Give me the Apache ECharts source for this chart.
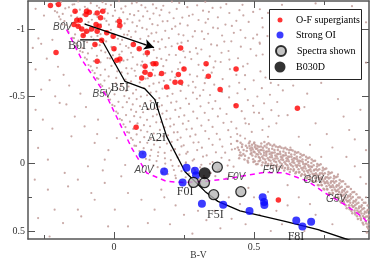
<!DOCTYPE html>
<html><head><meta charset="utf-8">
<script src="https://cdn.jsdelivr.net/npm/echarts@6/dist/echarts.min.js"></script>
<style>html,body{margin:0;padding:0;background:#fff}#c{width:370px;height:260px}</style>
</head><body><div id="c"></div>
<script>
const xTicksMajor=[0,0.5], xTicksMinor=[-0.25,0.25,0.75];
const yTicksMajor=[-1,-0.5,0,0.5], yTicksMinor=[-0.75,-0.25,0.25];

const superGiants=[[-.227,-1.175],[-.198,-1.182],[-.139,-1.132],[-.098,-1.132],[-.088,-1.125],[-.060,-1.120],[-.040,-1.132],[-.100,-1.108],[-.048,-1.083],[-.133,-1.065],[-.121,-1.065],[-.143,-1.033],[-.128,-1.021],[-.115,-1.001],[-.098,-.984],[-.080,-1.001],[-.064,-1.033],[-.053,-1.021],[-.060,-.984],[-.110,-.952],[-.026,-.972],[.019,-1.058],[.021,-1.026],[-.003,-.946],[-.068,-.885],[-.044,-.917],[.000,-.853],[.069,-.885],[.090,-.853],[.119,-.823],[-.060,-.761],[.010,-.768],[.021,-.778],[.238,-.860],[.140,-.743],[.150,-.743],[.111,-.723],[.111,-.679],[.129,-.662],[.170,-.669],[.099,-.637],[.250,-.704],[.230,-.662],[.329,-.743],[.337,-.649],[.436,-.704],[.218,-.604],[.238,-.604],[.188,-.570],[.379,-.550],[.436,-.431],[.079,-.271],[-.207,-.825],[.655,-.411],[.587,.270]];
const strongOI=[[.102,-.069],[.179,.059],[.245,.139],[.259,.030],[.289,.052],[.293,.086],[.314,.297],[.390,.305],[.484,.352],[.531,.249],[.536,.285],[.537,.307],[.651,.422],[.673,.466],[.704,.431]];
const spectraShown=[[.369,.026],[.284,.139],[.323,.141],[.356,.230],[.453,.208]];
const b030d=[[.324,.072]];

const supergiantSeq=[[-.121,-.92],[-.044,-.92],[.039,-.612],[.111,-.555],[.146,-.476],[.188,-.203],[.254,.06],[.283,.119],[.325,.206],[.371,.28],[.45,.35],[.611,.429],[.729,.49],[.836,.565],[.9,.61]];
const zams=[[-.169,-.996],[-.115,-.773],[-.026,-.5],[.063,-.117],[.081,-.054],[.117,.069],[.188,.132],[.248,.139],[.325,.132],[.407,.112],[.486,.082],[.539,.065],[.611,.069],[.694,.132],[.754,.218],[.825,.305],[.885,.392],[.907,.439]];
const arrowFrom=[-.104,-1.036], arrowTo=[.143,-.862];

const superLabels=[['B0I',-.132,-.877],['B5I',.021,-.565],['A0I',.129,-.42],['A2I',.152,-.19],['F0I',.254,.208],['F5I',.362,.38],['F8I',.65,.545]];
const dwarfLabels=[['B0V',-.184,-1.015],['B5V',-.043,-.517],['A0V',.107,.048],['F0V',.436,.097],['F5V',.564,.048],['G0V',.7125,.126],['G5V',.793,.264]];

const cloudUpper=[
[-.207,-1.187],[-.189,-1.201],[-.142,-1.184],[-.128,-1.205],[-.083,-1.192],[-.041,-1.199],[-.029,-1.186],[.018,-1.207],[.064,-1.19],[.081,-1.197],[.139,-1.183],[.207,-1.203],[.233,-1.194],[.326,-1.202],[.401,-1.185],
[-.199,-1.174],[-.161,-1.161],[-.148,-1.182],[-.104,-1.165],[-.061,-1.172],[-.053,-1.158],[-.011,-1.178],[.041,-1.169],[.098,-1.177],[.112,-1.16],[.176,-1.173],[.262,-1.162],[.297,-1.176],[.381,-1.159],[.459,-1.18],
[-.211,-1.133],[-.174,-1.153],[-.122,-1.144],[-.094,-1.152],[-.087,-1.135],[-.031,-1.148],[.004,-1.137],[.026,-1.151],[.087,-1.134],[.151,-1.155],[.169,-1.142],[.224,-1.149],[.318,-1.136],[.352,-1.157],[.448,-1.14],[.521,-1.147],
[-.203,-1.123],[-.183,-1.112],[-.137,-1.126],[-.071,-1.109],[-.048,-1.13],[-.022,-1.117],[.033,-1.124],[.057,-1.111],[.119,-1.132],[.141,-1.115],[.198,-1.122],[.281,-1.108],[.339,-1.128],[.412,-1.119],[.497,-1.127],
[-.196,-1.092],[-.153,-1.099],[-.131,-1.086],[-.111,-1.107],[-.059,-1.09],[-.004,-1.097],[.019,-1.083],[.072,-1.103],[.104,-1.094],[.163,-1.102],[.244,-1.085],[.268,-1.098],[.371,-1.087],[.462,-1.101],[.562,-1.084],
[-.191,-1.072],[-.177,-1.058],[-.118,-1.078],[-.079,-1.069],[-.034,-1.077],[-.027,-1.06],[.048,-1.073],[.091,-1.062],[.128,-1.076],[.191,-1.059],[.213,-1.08],[.302,-1.067],[.336,-1.074],[.437,-1.061],[.529,-1.082],
[-.184,-1.035],[-.143,-1.048],[-.104,-1.037],[-.091,-1.051],[-.047,-1.034],[.007,-1.055],[.038,-1.042],[.066,-1.049],[.137,-1.036],[.174,-1.057],[.236,-1.04],[.327,-1.047],[.398,-1.033],[.481,-1.053],[.584,-1.044],
[-.171,-1.03],[-.158,-1.017],[-.127,-1.024],[-.066,-1.011],[-.018,-1.032],[.013,-1.015],[.082,-1.022],[.101,-1.008],[.156,-1.028],[.219,-1.019],[.263,-1.027],[.354,-1.01],[.421,-1.023],[.531,-1.012],
[-.166,-.99],[-.121,-.997],[-.087,-.983],[-.071,-1.003],[-.011,-.994],[.024,-1.002],[.053,-.985],[.117,-.998],[.183,-.987],[.207,-1.001],[.289,-.984],[.371,-1.005],[.452,-.992],[.573,-.999],
[-.162,-.977],[-.139,-.96],[-.101,-.973],[-.048,-.962],[-.029,-.976],[.036,-.959],[.077,-.98],[.134,-.967],[.151,-.974],[.231,-.961],[.314,-.982],[.336,-.965],[.428,-.972],[.511,-.958],[.618,-.978],
[-.149,-.934],[-.108,-.955],[-.081,-.942],[-.059,-.949],[-.002,-.936],[.048,-.957],[.061,-.94],[.123,-.947],[.196,-.933],[.248,-.953],[.281,-.944],[.386,-.952],[.469,-.935],[.548,-.948],
[-.143,-.932],[-.127,-.915],[-.073,-.922],[-.028,-.908],[.014,-.928],[.029,-.919],[.094,-.927],[.143,-.91],[.171,-.923],[.264,-.912],[.322,-.926],[.419,-.909],[.497,-.93],[.601,-.917],
[-.136,-.894],[-.096,-.902],[-.064,-.885],[-.041,-.898],[.022,-.887],[.071,-.901],[.109,-.884],[.158,-.905],[.227,-.892],[.241,-.899],[.347,-.886],[.394,-.907],[.521,-.89],
[-.128,-.876],[-.113,-.859],[-.051,-.88],[-.009,-.867],[.043,-.874],[.052,-.861],[.127,-.882],[.184,-.865],[.206,-.872],[.293,-.858],[.368,-.878],[.453,-.869],[.562,-.877],[.641,-.86],
[-.121,-.836],[-.079,-.857],[-.046,-.84],[.003,-.847],[.028,-.833],[.088,-.853],[.142,-.844],[.163,-.852],[.248,-.835],[.312,-.848],[.409,-.837],[.488,-.851],
[-.112,-.828],[-.093,-.819],[-.031,-.827],[.019,-.81],[.061,-.823],[.106,-.812],[.121,-.826],[.197,-.809],[.271,-.83],[.298,-.817],[.384,-.824],[.531,-.811],[.613,-.832],
[-.104,-.787],[-.061,-.801],[-.023,-.784],[-.004,-.805],[.067,-.792],[.118,-.799],[.153,-.786],[.221,-.807],[.254,-.79],[.342,-.797],[.443,-.783],[.508,-.803],
[-.097,-.774],[-.072,-.761],[-.014,-.782],[.034,-.765],[.048,-.772],[.101,-.758],[.169,-.778],[.187,-.769],[.276,-.777],[.362,-.76],[.412,-.773],[.569,-.762],[.657,-.776],
[-.091,-.733],[-.048,-.753],[.003,-.744],[.021,-.752],[.083,-.735],[.131,-.748],[.149,-.737],[.236,-.751],[.302,-.734],[.381,-.755],[.477,-.742],
[-.083,-.723],[-.061,-.712],[-.009,-.726],[.044,-.709],[.097,-.73],[.112,-.717],[.176,-.724],[.248,-.711],[.331,-.732],[.356,-.715],[.461,-.722],[.612,-.708],
[-.077,-.692],[-.032,-.699],[.012,-.686],[.063,-.707],[.074,-.69],[.139,-.697],[.207,-.683],[.229,-.703],[.318,-.694],[.414,-.702],[.523,-.685],
[-.069,-.672],[-.048,-.658],[.027,-.678],[.049,-.669],[.103,-.677],[.162,-.66],[.183,-.673],[.271,-.662],[.349,-.676],[.437,-.659],[.578,-.68],
[-.061,-.635],[-.019,-.648],[.008,-.637],[.078,-.651],[.121,-.634],[.146,-.655],[.219,-.642],[.297,-.649],[.327,-.636],[.468,-.657],[.541,-.64],
[-.056,-.63],[-.034,-.617],[.041,-.624],[.061,-.611],[.113,-.632],[.178,-.615],[.201,-.622],[.282,-.608],[.388,-.628],[.499,-.619],[.632,-.627],
[-.048,-.59],[.006,-.597],[.027,-.583],[.092,-.603],[.141,-.594],[.161,-.602],[.243,-.585],[.324,-.598],[.358,-.587],[.447,-.601],[.587,-.584],
[-.042,-.577],[-.017,-.56],[.052,-.573],[.107,-.562],[.126,-.576],[.197,-.559],[.266,-.58],[.291,-.567],[.412,-.574],[.528,-.561],
[-.034,-.534],[.021,-.555],[.043,-.542],[.079,-.549],[.151,-.536],[.173,-.557],[.238,-.54],[.319,-.547],[.386,-.533],[.468,-.553],[.603,-.544],
[-.029,-.532],[.002,-.515],[.068,-.522],[.118,-.508],[.131,-.528],[.209,-.519],[.282,-.527],[.343,-.51],[.441,-.523],[.557,-.512],
[-.021,-.494],[.037,-.502],[.054,-.485],[.096,-.498],[.162,-.487],[.191,-.501],[.257,-.484],[.307,-.505],[.411,-.492],[.512,-.499],
[-.014,-.476],[.016,-.459],[.081,-.48],[.131,-.467],[.148,-.474],[.223,-.461],[.296,-.482],[.362,-.465],[.478,-.472],[.583,-.458],
[-.006,-.436],[.046,-.457],[.067,-.44],[.109,-.447],[.171,-.433],[.204,-.453],[.268,-.444],[.338,-.452],[.431,-.435],[.536,-.448],
[.002,-.428],[.031,-.419],[.093,-.427],[.146,-.41],[.161,-.423],[.237,-.412],[.309,-.426],[.379,-.409],[.497,-.43],
[.008,-.387],[.061,-.401],[.079,-.384],[.124,-.405],[.188,-.392],[.219,-.399],[.283,-.386],[.352,-.407],[.456,-.39],[.562,-.397],
[.014,-.374],[.043,-.361],[.104,-.382],[.153,-.365],[.173,-.372],[.251,-.358],[.324,-.378],[.402,-.369],[.518,-.377],
[.021,-.333],[.072,-.353],[.094,-.344],[.139,-.352],[.201,-.335],[.232,-.348],[.297,-.337],[.371,-.351],[.467,-.334],[.588,-.355],
[.028,-.323],[.057,-.312],[.118,-.326],[.168,-.309],[.187,-.33],[.266,-.317],[.338,-.324],[.419,-.311],[.531,-.332],
[.034,-.292],[.084,-.299],[.107,-.286],[.151,-.307],[.214,-.29],[.246,-.297],[.312,-.283],[.391,-.303],[.482,-.294],
[.041,-.272],[.069,-.258],[.129,-.278],[.181,-.269],[.201,-.277],[.278,-.26],[.352,-.273],[.437,-.262],[.553,-.276],
[.047,-.235],[.096,-.248],[.119,-.237],[.164,-.251],[.227,-.234],[.259,-.255],[.326,-.242],[.408,-.249],[.492,-.236],
[.054,-.23],[.081,-.217],[.142,-.224],[.193,-.211],[.214,-.232],[.291,-.215],[.367,-.222],[.451,-.208],
[.061,-.19],[.108,-.197],[.131,-.183],[.176,-.203],[.238,-.194],[.272,-.202],[.339,-.185],[.417,-.198],[.468,-.187],
[.067,-.177],[.093,-.16],[.153,-.173],[.206,-.162],[.227,-.176],[.302,-.159],[.378,-.18],[.441,-.167],
[.073,-.134],[.119,-.155],[.143,-.142],[.189,-.149],[.249,-.136],[.284,-.157],[.352,-.14],[.418,-.147],
[.079,-.132],[.106,-.115],[.164,-.122],[.218,-.108],[.241,-.128],[.314,-.119],[.387,-.127],[.432,-.11],
[.091,-.094],[.133,-.102],[.158,-.085],[.204,-.098],[.263,-.087],[.297,-.101],[.364,-.084],[.421,-.105],
[.103,-.076],[.129,-.059],[.181,-.08],[.234,-.067],[.258,-.074],[.331,-.061],[.397,-.082],
[.114,-.036],[.157,-.057],[.182,-.04],[.227,-.047],[.286,-.033],[.318,-.053],[.384,-.044],
[.127,-.028],[.152,-.019],[.203,-.027],[.257,-.01],[.281,-.023],[.352,-.012],[.412,-.026],
[.141,.013],[.183,-.001],[.209,.016],[.256,-.005],[.312,.008],[.343,.001],[.406,.014],
[.156,.026],[.181,.039],[.231,.018],[.284,.035],[.308,.028],[.376,.042],[.427,.022],
[.173,.067],[.214,.047],[.241,.056],[.289,.048],[.342,.065],[.371,.052],
[.192,.077],[.219,.088],[.268,.074],[.321,.091],[.346,.07],[.412,.083],
[.221,.108],[.256,.101],[.304,.114],[.362,.093],[.401,.11]];

const cloudMS=[
[.442,-.121],[.451,-.083],[.458,-.142],[.447,-.041],[.439,-.168],[.463,-.102],[.455,-.061],
[.471,-.133],[.468,-.058],[.482,-.152],[.477,-.021],[.474,-.094],[.486,-.112],[.479,-.008],[.488,-.071],
[.493,-.141],[.491,-.079],[.503,-.123],[.497,-.032],[.506,-.054],[.501,-.158],[.495,-.108],[.508,.004],[.499,-.091],
[.512,-.132],[.514,-.069],[.523,-.101],[.517,-.018],[.526,-.149],[.521,-.042],[.511,-.113],[.528,.011],[.519,-.084],
[.532,-.118],[.535,-.062],[.543,-.089],[.531,-.009],[.546,-.142],[.539,-.031],[.534,-.098],[.548,.018],[.537,-.161],[.544,-.071],
[.553,-.109],[.557,-.048],[.562,-.081],[.551,.003],[.566,-.131],[.559,-.022],[.554,-.092],[.568,.031],[.552,-.152],[.563,-.062],
[.573,-.101],[.576,-.039],[.583,-.072],[.571,.011],[.586,-.122],[.579,-.012],[.574,-.083],[.588,.042],[.572,-.141],[.581,-.053],
[.593,-.088],[.597,-.031],[.603,-.061],[.591,.022],[.606,-.112],[.599,.003],[.594,-.072],[.608,.051],[.592,-.128],[.601,-.044],
[.613,-.079],[.616,-.019],[.622,-.052],[.611,.032],[.626,-.101],[.619,.012],[.614,-.062],[.628,.061],[.612,-.119],[.621,-.033],
[.633,-.068],[.637,-.011],[.643,-.041],[.631,.042],[.646,-.089],[.639,.021],[.634,-.052],[.648,.071],[.632,-.103],[.641,-.022],
[.653,-.052],[.656,.012],[.662,-.022],[.651,.061],[.666,-.071],[.659,.041],[.654,-.033],[.668,.089],[.652,-.082],[.661,-.004],
[.673,-.031],[.676,.031],[.683,.002],[.671,.079],[.686,-.052],[.679,.058],[.674,-.012],[.688,.108],[.672,-.061],[.681,.019],
[.693,-.012],[.696,.049],[.703,.021],[.691,.101],[.706,-.031],[.699,.082],[.694,.012],[.708,.128],[.692,-.041],[.701,.041],
[.713,.011],[.716,.078],[.722,.042],[.711,.131],[.726,.003],[.719,.109],[.714,.051],[.728,.158],[.712,-.019],[.721,.071],
[.733,.041],[.736,.108],[.743,.072],[.731,.161],[.746,.031],[.739,.138],[.734,.082],[.748,.187],[.732,.011],[.741,.101],
[.753,.071],[.756,.139],[.762,.101],[.751,.192],[.766,.062],[.759,.168],[.754,.112],[.768,.218],[.752,.041],[.761,.131],
[.773,.102],[.776,.171],[.783,.131],[.771,.222],[.786,.091],[.779,.198],[.774,.142],[.788,.248],[.772,.071],[.781,.161],
[.793,.131],[.796,.201],[.802,.162],[.791,.251],[.806,.121],[.799,.228],[.794,.172],[.808,.279],[.792,.101],[.801,.191],
[.813,.171],[.816,.238],[.822,.201],[.811,.289],[.826,.151],[.819,.268],[.814,.212],[.828,.311],[.812,.132],[.821,.231],
[.833,.208],[.836,.279],[.843,.242],[.831,.331],[.846,.188],[.839,.309],[.834,.251],[.848,.352],[.832,.171],[.841,.271],
[.853,.248],[.856,.318],[.862,.281],[.851,.369],[.866,.228],[.859,.348],[.854,.291],[.868,.391],[.852,.212],[.861,.309],
[.873,.291],[.876,.361],[.883,.322],[.871,.411],[.886,.268],[.879,.389],[.874,.331],[.888,.438],[.872,.251],[.881,.352],
[.893,.331],[.896,.401],[.902,.362],[.891,.452],[.906,.311],[.899,.428],[.894,.372],[.908,.481],[.892,.291],[.901,.392],
[.911,.381],[.909,.451],[.912,.502],[.908,.342]];

const cloudMS2=[
[.446,-.101],[.457,-.123],[.462,-.072],[.452,-.155],[.466,-.031],[.449,-.062],
[.484,-.132],[.481,-.043],[.489,-.098],[.476,-.118],[.494,-.061],[.498,-.012],[.485,-.165],[.492,-.121],
[.505,-.139],[.509,-.072],[.515,-.098],[.503,-.018],[.517,-.049],[.507,-.111],[.518,-.125],[.513,.003],[.502,-.085],
[.525,-.128],[.529,-.052],[.536,-.081],[.522,-.025],[.538,-.131],[.527,-.101],[.533,-.039],[.541,-.002],[.524,-.071],
[.545,-.121],[.549,-.041],[.556,-.071],[.542,-.012],[.558,-.141],[.547,-.091],[.553,-.028],[.561,.012],[.544,-.058],
[.565,-.111],[.569,-.031],[.576,-.061],[.562,-.002],[.578,-.128],[.567,-.081],[.573,-.018],[.581,.022],[.564,-.048],
[.585,-.101],[.589,-.021],[.596,-.051],[.582,.008],[.598,-.118],[.587,-.071],[.593,-.008],[.601,.032],[.584,-.038],
[.605,-.091],[.609,-.011],[.616,-.041],[.602,.018],[.618,-.108],[.607,-.061],[.613,.002],[.621,.042],[.604,-.028],
[.625,-.081],[.629,.001],[.636,-.031],[.622,.028],[.638,-.098],[.627,-.051],[.633,.012],[.641,.052],[.624,-.018],
[.645,-.068],[.649,.012],[.656,-.018],[.642,.041],[.658,-.085],[.647,-.038],[.653,.025],[.661,.065],[.644,-.005],
[.665,-.048],[.669,.032],[.676,.002],[.662,.061],[.678,-.065],[.667,-.018],[.673,.045],[.681,.085],[.664,.015],
[.685,-.028],[.689,.052],[.696,.022],[.682,.081],[.698,-.045],[.687,.002],[.693,.065],[.701,.105],[.684,.035],
[.705,-.005],[.709,.075],[.716,.045],[.702,.105],[.718,-.021],[.707,.025],[.713,.089],[.721,.131],[.704,.058],
[.725,.021],[.729,.101],[.736,.071],[.722,.131],[.738,.005],[.727,.051],[.733,.115],[.741,.158],[.724,.085],
[.745,.051],[.749,.131],[.756,.101],[.742,.161],[.758,.035],[.747,.081],[.753,.145],[.761,.188],[.744,.115],
[.765,.081],[.769,.161],[.776,.131],[.762,.191],[.778,.065],[.767,.111],[.773,.175],[.781,.218],[.764,.145],
[.785,.111],[.789,.191],[.796,.161],[.782,.221],[.798,.095],[.787,.141],[.793,.205],[.801,.248],[.784,.175],
[.805,.148],[.809,.228],[.816,.198],[.802,.258],[.818,.131],[.807,.178],[.813,.241],[.821,.285],[.804,.211],
[.825,.188],[.829,.268],[.836,.238],[.822,.298],[.838,.171],[.827,.218],[.833,.281],[.841,.325],[.824,.251],
[.845,.228],[.849,.308],[.856,.278],[.842,.338],[.858,.211],[.847,.258],[.853,.321],[.861,.365],[.844,.291],
[.865,.268],[.869,.348],[.876,.318],[.862,.378],[.878,.251],[.867,.298],[.873,.361],[.881,.405],[.864,.331],
[.885,.308],[.889,.388],[.896,.358],[.882,.418],[.898,.291],[.887,.338],[.893,.401],[.901,.445],[.884,.371],
[.905,.348],[.909,.418],[.904,.468],[.907,.392],[.903,.511]];

const cloudSparse=[
[-.254,-.327],[-.194,-.451],[-.271,-.117],[-.236,-.030],[-.176,.069],[-.129,.119],[-.236,.193],[-.164,.169],[-.081,.218],[-.271,.404],[-.212,.342],[-.129,.342],[-.069,.268],[-.182,.441],[-.117,.392],[-.230,.541],[-.033,.143],[.003,.342],[-.021,.466],[-.105,-.277],[-.057,-.327],[-.069,-.154],[-.152,-.203],[-.283,.119],[-.093,.020],[-.033,-.030],[.026,.094],[.050,.218],[.098,.268],[.145,.342],[.050,.466],[.121,.441],[.169,.193],
[-.28,-1.15],[-.25,-1.1],[-.27,-.93],[-.26,-.89],[-.29,-.86],[-.22,-.92],[-.24,-.78],[-.28,-.70],[-.2,-.72],[-.23,-.62],[-.18,-.66],[-.26,-.55],[-.16,-.58],[-.21,-.5],[-.12,-.52],[-.17,-.44],[-.28,-.40],[-.10,-.42],[-.14,-.35],[-.22,-.26],[-.06,-.22],[-.02,-.10],[.01,-.19],[.04,.01],[-.04,.05],
[.18,.25],[.22,.31],[.2,.45],[.25,.38],[.28,.52],[.33,.42],[.38,.48],[.42,.41],[.47,.45],[.41,.25],[.45,.3],[.5,.25],[.55,.21],[.58,.35],[.62,.31],[.6,.45],[.66,.25],[.7,.3],[.72,.38],[.74,.5],[.78,.45],[.68,.5],[.56,.5],[.52,.38],[.48,.18],[.62,.16],[.36,.35],[.3,.35],
[.62,-.95],[.7,-.88],[.78,-.78],[.66,-.72],[.85,-.65],[.74,-.6],[.69,-.52],[.8,-.48],[.88,-.4],[.62,-.36],[.72,-.3],[.84,-.25],[.66,-.2],[.78,-.12],[.9,-.1],[.74,-.05],[.86,.02],[.8,.08],[.9,.15],[.68,-.42],[.58,-.3],[.55,-.2],[.63,-.12],[.7,-.14],[.76,-.22],[.82,-.35],[.86,-.18],[.9,.25],[.88,.1],[.83,-.05],[.56,-.6],[.6,-.78],[.52,-.9],[.57,-.68],[.64,-.58],[.5,-.15],[.53,-.25],[.47,-.3],[.5,-.38],[.44,-.22],
[.6,-1.18],[.72,-1.19],[.85,-1.17],[.9,-1.05],[.9,-.75],[.55,-1.12],[.65,-1.05]];

const X_MIN=-0.3071, X_MAX=0.9107, Y_MIN=-1.2082, Y_MAX=0.5595;
const AX='#555';
const serif='"Liberation Serif", "Times New Roman", serif';

function xAx(pos, ticks, len, line, labels){
  return {type:'value', position:pos, min:X_MIN, max:X_MAX, splitLine:{show:false},
    axisLine:{show:line, onZero:false, lineStyle:{color:AX, width:1.5}},
    axisTick:{show:true, inside:true, length:len, customValues:ticks, lineStyle:{color:AX, width:1}},
    axisLabel:{show:!!labels, customValues:labels||ticks, margin:3, fontFamily:serif, fontSize:10, color:'#333'},
    name: (pos==='bottom'&&line)?'B-V':'', nameLocation:'middle', nameGap:11, nameMoveOverlap:false,
    nameTextStyle:{fontFamily:serif, fontSize:9.5, color:'#333', verticalAlign:'top'}};
}
function yAx(pos, ticks, len, line, labels){
  return {type:'value', position:pos, inverse:true, min:Y_MIN, max:Y_MAX, splitLine:{show:false},
    axisLine:{show:line, onZero:false, lineStyle:{color:AX, width:1.5}},
    axisTick:{show:true, inside:true, length:len, customValues:ticks, lineStyle:{color:AX, width:1}},
    axisLabel:{show:!!labels, customValues:labels||ticks, margin:3, fontFamily:serif, fontSize:10, color:'#333'},
    name: (pos==='left'&&line)?'U-B':'', nameLocation:'middle', nameGap:20, nameRotate:90,
    nameTextStyle:{fontFamily:serif, fontSize:9.5, color:'#333'}};
}

const chart=echarts.init(document.getElementById('c'),null,{renderer:'canvas'});
const cloudStyle={color:'#c09a96', opacity:0.85};
function legendItem(name, top, size){
  return {data:[name], orient:'vertical', left:280-size/2, top:top-6, padding:0,
    itemWidth:size, itemHeight:size, icon:'circle', z:12, selectedMode:false,
    textStyle:{fontFamily:serif, fontSize:10, color:'#000', lineHeight:12, padding:[0,0,0,296-(280+size/2+5)]}};
}
const option={
  animation:false,
  backgroundColor:'#fff',
  grid:{left:28, right:1, top:1, bottom:21, containLabel:false, outerBoundsMode:'none'},
  xAxis:[xAx('bottom',xTicksMajor,7,true,xTicksMajor), xAx('bottom',xTicksMinor,4,false), xAx('top',xTicksMajor,7,true), xAx('top',xTicksMinor,4,false)],
  yAxis:[yAx('left',yTicksMajor,7,true,yTicksMajor), yAx('left',yTicksMinor,4,false), yAx('right',yTicksMajor,7,true), yAx('right',yTicksMinor,4,false)],
  graphic:[{type:'rect', left:269, top:9, z:11, shape:{width:92, height:70}, style:{fill:'#fff', stroke:'#222', lineWidth:1}}],
  legend:[legendItem('O-F supergiants',20,5), legendItem('Strong OI',35,7), legendItem('Spectra shown',51,10), legendItem('B030D',67,11)],
  series:[
    {type:'scatter', name:'cloud', data:cloudUpper.concat(cloudSparse), symbolSize:2.2, itemStyle:cloudStyle, z:1, silent:true},
    {type:'scatter', name:'cloudMS', data:cloudMS.concat(cloudMS2), symbolSize:2.5, itemStyle:cloudStyle, z:1, silent:true},
    {type:'line', name:'zams', data:zams, showSymbol:false, symbol:'none', z:2, lineStyle:{color:'#ff00ff', width:1.5, type:[5,4]}},
    {type:'line', name:'sg', data:supergiantSeq, showSymbol:false, symbol:'none', z:2, lineStyle:{color:'#000', width:1.3}},
    {type:'scatter', name:'O-F supergiants', data:superGiants, symbolSize:5.5, z:3, itemStyle:{color:'#ff0000'}},
    {type:'scatter', name:'Strong OI', data:strongOI, symbolSize:8, z:3, itemStyle:{color:'#0a0aff'}},
    {type:'scatter', name:'Spectra shown', data:spectraShown, symbolSize:10, z:4, itemStyle:{color:'#b5b5b5', borderColor:'#000', borderWidth:1.3}},
    {type:'scatter', name:'B030D', data:b030d, symbolSize:12, z:4, itemStyle:{color:'#000'}},
    {type:'line', name:'arrow', data:[], z:5, markLine:{silent:true, symbol:['none','arrow'], symbolSize:[8,10], label:{show:false},
      lineStyle:{color:'#000', width:1.3, type:'solid'}, data:[[{coord:arrowFrom},{coord:arrowTo}]]}},
    {type:'scatter', name:'slabels', z:6, symbolSize:1, itemStyle:{color:'rgba(0,0,0,0)'},
      data:superLabels.map(d=>({name:d[0], value:[d[1],d[2]]})),
      label:{show:true, position:'inside', formatter:'{b}', fontFamily:serif, fontSize:12, color:'#000'}},
    {type:'scatter', name:'dlabels', z:6, symbolSize:1, itemStyle:{color:'rgba(0,0,0,0)'},
      data:dwarfLabels.map(d=>({name:d[0], value:[d[1],d[2]]})),
      label:{show:true, position:'inside', formatter:'{b}', fontFamily:'"Liberation Sans", Arial, sans-serif', fontStyle:'italic', fontSize:10, color:'#222'}}
  ]
};
chart.setOption(option);
</script></body></html>
